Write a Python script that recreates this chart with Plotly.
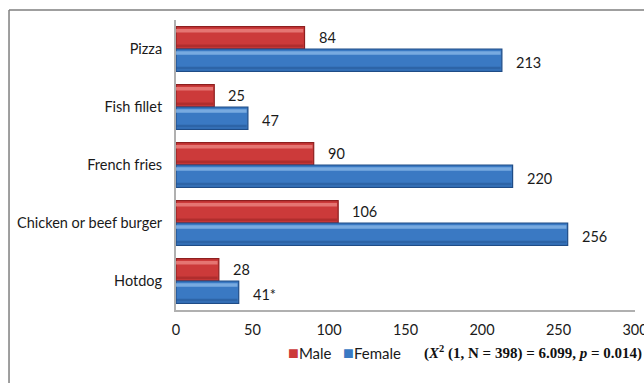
import plotly.graph_objects as go

# Fast-food preference counts by gender
foods = ["Pizza", "Fish fillet", "French fries", "Chicken or beef burger", "Hotdog"]
male = [84, 25, 90, 106, 28]
female = [213, 47, 220, 256, 41]
female_note = ["", "", "", "", "*"]
x_ticks = [0, 50, 100, 150, 200, 250, 300]

BAR_W = 0.385
idx = list(range(len(foods)))
male_y = [i - BAR_W / 2 for i in idx]
female_y = [i + BAR_W / 2 for i in idx]

RED, RED_DARK, RED_LIGHT = "#CC3A3A", "#8E1F1F", "#EE8A86"
BLUE, BLUE_DARK, BLUE_LIGHT = "#3A79C3", "#1F4C86", "#8DBBEA"

fig = go.Figure()


def add_bevel_bar(name, vals, ys, base, dark, light):
    # main bar body
    fig.add_trace(go.Bar(
        name=name, x=vals, y=ys, orientation="h", width=BAR_W,
        marker=dict(color=base, line=dict(color=dark, width=1.2)),
        showlegend=False, hoverinfo="x+name",
    ))
    # light highlight along the top edge
    fig.add_trace(go.Bar(
        x=[v - 0.8 for v in vals], y=[y - BAR_W * 0.32 for y in ys],
        orientation="h", width=BAR_W * 0.16,
        marker=dict(color=light, opacity=0.75, line=dict(width=0)),
        showlegend=False, hoverinfo="skip",
    ))
    # darker shade along the bottom edge
    fig.add_trace(go.Bar(
        x=[v - 0.8 for v in vals], y=[y + BAR_W * 0.36 for y in ys],
        orientation="h", width=BAR_W * 0.12,
        marker=dict(color=dark, opacity=0.45, line=dict(width=0)),
        showlegend=False, hoverinfo="skip",
    ))


add_bevel_bar("Male", male, male_y, RED, RED_DARK, RED_LIGHT)
add_bevel_bar("Female", female, female_y, BLUE, BLUE_DARK, BLUE_LIGHT)

# value labels beside each bar
label_font = dict(family="Lato, Carlito, sans-serif", size=14.5, color="#1a1a1a")
for v, y in zip(male, male_y):
    fig.add_annotation(x=v, y=y, text=str(v), showarrow=False, xanchor="left",
                       xshift=12, font=label_font)
for v, y, n in zip(female, female_y, female_note):
    fig.add_annotation(x=v, y=y, text=f"{v}{n}", showarrow=False, xanchor="left",
                       xshift=12, yshift=-2, font=label_font)

# compact legend: coloured squares followed by series names
fig.add_annotation(
    xref="paper", yref="paper", x=0.24, y=-0.145, xanchor="left", yanchor="middle",
    text=(f'<span style="color:{RED};font-size:18px">■</span>Male&nbsp;&nbsp;&nbsp;'
          f'<span style="color:{BLUE};font-size:18px">■</span>Female'),
    showarrow=False, font=dict(family="Lato, Carlito, sans-serif", size=15, color="#1a1a1a"),
)

# chi-square test result
fig.add_annotation(
    xref="paper", yref="paper", x=0.536, y=-0.145, xanchor="left", yanchor="middle",
    text="<b>(<i>X</i><sup>2</sup> (1, N = 398) = 6.099, <i>p</i> = 0.014)</b>",
    showarrow=False,
    font=dict(family="Liberation Serif, Times New Roman, serif", size=15, color="#111"),
)

# outer frame around the figure
fig.add_shape(type="line", xref="paper", yref="paper",
              x0=-0.3638, x1=1.2, y0=1.0345, y1=1.0345,
              line=dict(color="#7f7f7f", width=1.5))
fig.add_shape(type="line", xref="paper", yref="paper",
              x0=-0.3638, x1=-0.3638, y0=1.0345, y1=-0.4,
              line=dict(color="#7f7f7f", width=1.5))

fig.update_layout(
    width=644, height=383,
    margin=dict(l=176, r=9, t=20, b=73, autoexpand=False),
    paper_bgcolor="white", plot_bgcolor="white",
    barmode="overlay", showlegend=False,
    font=dict(family="Lato, Carlito, sans-serif", size=14.5, color="#1a1a1a"),
    xaxis=dict(range=[0, 300], tickvals=x_ticks, showgrid=False, zeroline=False,
               showline=True, linecolor="#B0B0B0", linewidth=2,
               ticks="outside", ticklen=6, tickcolor="rgba(0,0,0,0)",
               ticklabeloverflow="allow", automargin=False),
    yaxis=dict(tickvals=idx, ticktext=foods, range=[4.5, -0.5], showgrid=False,
               zeroline=False, showline=True, linecolor="#B0B0B0", linewidth=2,
               ticks="outside", ticklen=9, tickcolor="rgba(0,0,0,0)",
               automargin=False),
)

fig.write_html("out.html")
